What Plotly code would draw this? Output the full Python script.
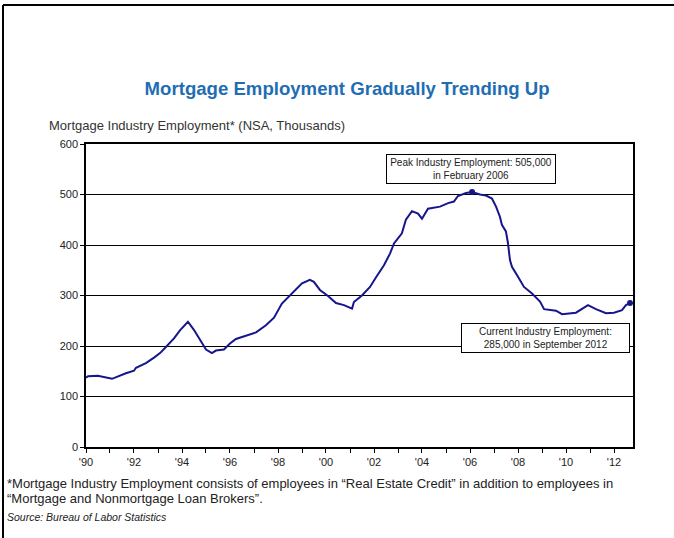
import plotly.graph_objects as go

# Monthly readings (YYYY-MM) and employment values (thousands)
dates = ["1990-01", "1990-02", "1990-07", "1991-02", "1991-09", "1992-01", "1992-02", "1992-07",
         "1992-11", "1993-02", "1993-05", "1993-09", "1993-12", "1994-04", "1994-07", "1994-10",
         "1995-01", "1995-04", "1995-06", "1995-10", "1996-01", "1996-04", "1996-09", "1997-02",
         "1997-07", "1997-11", "1998-03", "1998-08", "1998-11", "1999-01", "1999-05", "1999-07",
         "1999-10", "2000-02", "2000-06", "2000-10", "2001-02", "2001-03", "2001-07", "2001-11",
         "2002-02", "2002-06", "2002-09", "2002-11", "2003-03", "2003-05", "2003-08", "2003-11",
         "2004-01", "2004-04", "2004-10", "2005-02", "2005-05", "2005-07", "2005-11", "2006-02",
         "2006-06", "2006-09", "2006-12", "2007-02", "2007-04", "2007-05", "2007-07", "2007-08",
         "2007-09", "2007-10", "2008-01", "2008-04", "2008-08", "2008-12", "2009-02", "2009-08",
         "2009-11", "2010-03", "2010-06", "2010-12", "2011-04", "2011-09", "2012-01", "2012-05",
         "2012-07", "2012-09"]
values = [137, 140, 141, 135, 146, 151, 157, 166,
          177, 186, 198, 215, 231, 248, 232, 212,
          193, 186, 191, 193, 205, 214, 220, 227,
          241, 256, 284, 304, 318, 324, 331, 327,
          311, 299, 285, 281, 274, 287, 300, 317,
          336, 360, 383, 403, 423, 450, 467, 462,
          452, 472, 476, 483, 486, 497, 503, 505,
          500, 498, 492, 476, 456, 440, 427, 404,
          370, 357, 337, 317, 304, 288, 273, 270,
          263, 265, 266, 281, 273, 265, 266, 271,
          281, 285]

highlight_dates = ["2006-02", "2012-09"]
highlight_values = [505, 285]

year_ticks = [f"{y}-01-01" for y in range(1990, 2013)]
year_text = [("'" + str(y)[2:]) if y % 2 == 0 else "" for y in range(1990, 2013)]

title = "Mortgage Employment Gradually Trending Up"
ytitle = "Mortgage Industry Employment* (NSA, Thousands)"
peak_note = "Peak Industry Employment: 505,000<br>in February 2006"
current_note = "Current Industry Employment:<br>285,000 in September 2012"
footnote_lines = ["*Mortgage Industry Employment consists of employees in \u201cReal Estate Credit\u201d in addition to employees in",
                  "\u201cMortgage and Nonmortgage Loan Brokers\u201d."]
source = "Source: Bureau of Labor Statistics"

FONT = "Liberation Sans, Arial, sans-serif"
NAVY = "#16168c"

def px_x(px):
    return (px - 86) / 547

def px_y(py):
    return (447 - py) / 303

fig = go.Figure()
fig.add_trace(go.Scatter(x=dates, y=values, mode="lines",
                         line=dict(color=NAVY, width=2), hoverinfo="skip", showlegend=False))
fig.add_trace(go.Scatter(x=highlight_dates, y=highlight_values, mode="markers",
                         marker=dict(color=NAVY, size=6), showlegend=False))

fig.update_layout(
    width=674, height=538,
    margin=dict(l=86, r=41, t=144, b=91),
    paper_bgcolor="white", plot_bgcolor="white",
    font=dict(family=FONT, size=11, color="#222"),
    title=dict(text="<b>" + title + "</b>", x=0.515, xanchor="center", y=1 - 88 / 538, yanchor="middle",
               font=dict(size=18.6, color="#1f6db3", family=FONT)),
)
fig.update_xaxes(type="date", range=["1990-01-01", "2012-10-16"],
                 tickvals=year_ticks, ticktext=year_text, ticks="outside", ticklen=4,
                 tickcolor="black", showgrid=False, showline=True, linecolor="black",
                 linewidth=1.5, mirror=True, tickfont=dict(size=11, color="#222"))
fig.update_yaxes(range=[0, 600], dtick=100, ticks="outside", ticklen=4, tickcolor="black",
                 showgrid=True, gridcolor="black", gridwidth=1, zeroline=False,
                 showline=True, linecolor="black", linewidth=1.5, mirror=True,
                 tickfont=dict(size=11, color="#222"))

fig.add_annotation(text=ytitle, xref="paper", yref="paper", x=px_x(47), y=px_y(126),
                   xanchor="left", yanchor="middle", showarrow=False,
                   font=dict(size=13, color="#333"))
fig.add_annotation(text=peak_note, x="2006-01-15", y=551, showarrow=False,
                   font=dict(size=10, color="#222"), bgcolor="white", bordercolor="black",
                   borderwidth=1, borderpad=2, align="center", width=164)
fig.add_annotation(text=current_note, x="2009-03-01", y=216, showarrow=False,
                   font=dict(size=10, color="#222"), bgcolor="white", bordercolor="black",
                   borderwidth=1, borderpad=2, align="center", width=163)
for line, py in zip(footnote_lines, [483, 498]):
    fig.add_annotation(text=line, xref="paper", yref="paper", x=px_x(5), y=px_y(py),
                       xanchor="left", yanchor="middle", showarrow=False, align="left",
                       font=dict(size=13, color="#222"))
fig.add_annotation(text="<i>" + source + "</i>", xref="paper", yref="paper", x=px_x(5),
                   y=px_y(517), xanchor="left", yanchor="middle", showarrow=False,
                   font=dict(size=10.5, color="#222"))

# outer frame (only top and left edges fall inside the picture)
fig.add_shape(type="line", xref="paper", yref="paper",
              x0=px_x(3), x1=px_x(3), y0=px_y(538), y1=px_y(5),
              line=dict(color="black", width=2), layer="above")
fig.add_shape(type="line", xref="paper", yref="paper",
              x0=px_x(3), x1=px_x(674), y0=px_y(5), y1=px_y(5),
              line=dict(color="black", width=2), layer="above")

fig.write_html("out.html")
